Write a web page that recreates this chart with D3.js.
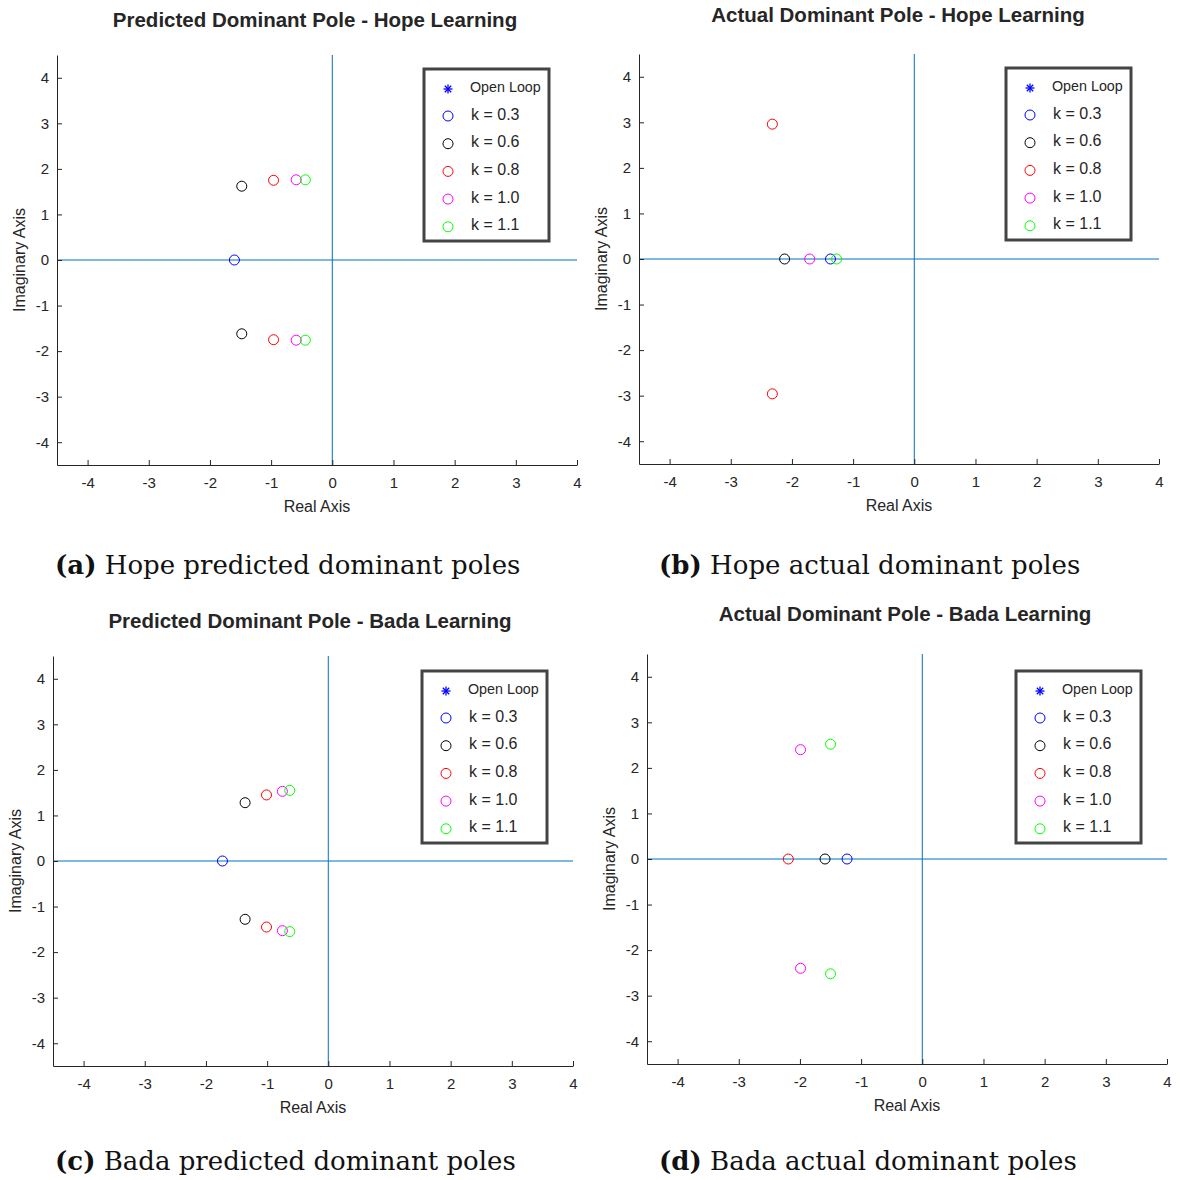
<!DOCTYPE html>
<html><head><meta charset="utf-8">
<script src="https://cdn.jsdelivr.net/npm/d3@7"></script>
<style>body{margin:0;background:#fff}svg{display:block}</style>
</head><body>
<svg id="c" width="1184" height="1180"></svg>
<script>
// ---- data ----
const legendLabels = ["Open Loop", "k = 0.3", "k = 0.6", "k = 0.8", "k = 1.0", "k = 1.1"];
const xTicks = [-4, -3, -2, -1, 0, 1, 2, 3, 4];
const yTicks = [-4, -3, -2, -1, 0, 1, 2, 3, 4];
// poles per k (0.3, 0.6, 0.8, 1.0, 1.1): real part and |imag| part (conjugate pairs when imag != 0)
const hopePredRe = [-1.60, -1.48, -0.96, -0.59, -0.44];
const hopePredIm = [0, 1.62, 1.75, 1.76, 1.76];
const hopeActRe  = [-1.37, -2.12, -2.32, -1.71, -1.27];
const hopeActIm  = [0, 0, 2.96, 0, 0];
const badaPredRe = [-1.73, -1.36, -1.01, -0.75, -0.63];
const badaPredIm = [0, 1.28, 1.45, 1.53, 1.55];
const badaActRe  = [-1.23, -1.59, -2.19, -1.99, -1.50];
const badaActIm  = [0, 0, 0, 2.40, 2.52];

const kColors = ["#0000ff", "#000000", "#ff0000", "#ff00ff", "#00ff00"];

const svg = d3.select("#c");
const sans = "'Liberation Sans', Arial, Helvetica, sans-serif";
const fmt = d => String(d);

function panel(o) {
  const g = svg.append("g");
  const x = d3.scaleLinear().domain([-4.5, 4]).range([o.left, o.left + 520]);
  const y = d3.scaleLinear().domain([-4.5, 4.5]).range([o.top + 410, o.top]);
  // zero lines
  g.append("line").attr("x1", x(-4.5)).attr("x2", x(4)).attr("y1", y(0)).attr("y2", y(0))
    .attr("stroke", "#0072BD").attr("stroke-width", 1);
  g.append("line").attr("x1", x(0)).attr("x2", x(0)).attr("y1", y(-4.5)).attr("y2", y(4.5))
    .attr("stroke", "#0072BD").attr("stroke-width", 1);
  // axes
  const xa = g.append("g").attr("transform", `translate(0,${y(-4.5)})`)
    .call(d3.axisBottom(x).tickValues(xTicks).tickSizeInner(-5).tickSizeOuter(0).tickPadding(12).tickFormat(fmt));
  const ya = g.append("g").attr("transform", `translate(${x(-4.5)},0)`)
    .call(d3.axisLeft(y).tickValues(yTicks).tickSizeInner(-5).tickSizeOuter(0).tickPadding(8).tickFormat(fmt));
  [xa, ya].forEach(a => {
    a.select(".domain").attr("stroke", "#262626");
    a.selectAll(".tick line").attr("stroke", "#262626");
    a.selectAll("text").attr("font-family", sans).attr("font-size", 15).attr("fill", "#262626");
  });
  ya.selectAll("text").attr("dy", "0.32em");
  // labels
  g.append("text").attr("x", (x(-4.5) + x(4)) / 2).attr("y", y(-4.5) + 47)
    .attr("text-anchor", "middle").attr("font-family", sans).attr("font-size", 16).attr("fill", "#262626").text("Real Axis");
  g.append("text").attr("transform", `translate(${o.left - 32},${y(0)}) rotate(-90)`)
    .attr("text-anchor", "middle").attr("font-family", sans).attr("font-size", 16).attr("fill", "#262626").text("Imaginary Axis");
  g.append("text").attr("x", o.titleX).attr("y", o.titleY).attr("text-anchor", "middle")
    .attr("font-family", sans).attr("font-weight", "bold").attr("font-size", 20.5).attr("fill", "#262626").text(o.title);
  // points
  const pts = [];
  o.re.forEach((r, i) => {
    pts.push({ re: r, im: o.im[i], c: kColors[i] });
    if (o.im[i] !== 0) pts.push({ re: r, im: -o.im[i], c: kColors[i] });
  });
  g.selectAll("circle.p").data(pts).join("circle").attr("class", "p")
    .attr("cx", d => x(d.re)).attr("cy", d => y(d.im)).attr("r", 5)
    .attr("fill", "none").attr("stroke", d => d.c).attr("stroke-width", 1);
  // legend
  const lg = g.append("g").attr("transform", `translate(${o.legX},${o.legY})`);
  lg.append("rect").attr("x", 0).attr("y", 0).attr("width", 125).attr("height", 172)
    .attr("fill", "#fff").attr("stroke", "#444").attr("stroke-width", 3);
  legendLabels.forEach((lab, i) => {
    const ry = i === 0 ? 18 : 45 + (i - 1) * 27.7;
    const mx = 24;
    if (i === 0) {
      const s = lg.append("g").attr("transform", `translate(${mx},${ry + 2})`);
      [0, 45, 90, 135].forEach(a => s.append("line").attr("x1", -4.5).attr("x2", 4.5)
        .attr("transform", `rotate(${a})`).attr("stroke", "#0000ff").attr("stroke-width", 1.3));
      lg.append("text").attr("x", 46).attr("y", ry).attr("dy", "0.35em").attr("font-family", sans)
        .attr("font-size", 14.3).attr("fill", "#262626").text(lab);
    } else {
      lg.append("circle").attr("cx", mx).attr("cy", ry + 2).attr("r", 5)
        .attr("fill", "none").attr("stroke", kColors[i - 1]).attr("stroke-width", 1);
      lg.append("text").attr("x", 47).attr("y", ry).attr("dy", "0.35em").attr("font-family", sans)
        .attr("font-size", 16).attr("fill", "#262626").text(lab);
    }
  });
  // caption
  const cap = svg.append("text").attr("x", o.capX).attr("y", o.capY)
    .attr("font-family", "'DejaVu Serif', 'Liberation Serif', serif").attr("font-size", 26).attr("fill", "#111");
  cap.append("tspan").attr("font-weight", "bold").text(o.capTag);
  cap.append("tspan").text(" " + o.capText);
}

panel({ left: 57, top: 55, re: hopePredRe, im: hopePredIm, title: "Predicted Dominant Pole - Hope Learning",
  titleX: 315, titleY: 27, legX: 424, legY: 69, capX: 55, capY: 574, capTag: "(a)", capText: "Hope predicted dominant poles" });
panel({ left: 639, top: 54, re: hopeActRe, im: hopeActIm, title: "Actual Dominant Pole - Hope Learning",
  titleX: 898, titleY: 22, legX: 1006, legY: 68, capX: 659, capY: 574, capTag: "(b)", capText: "Hope actual dominant poles" });
panel({ left: 53, top: 656, re: badaPredRe, im: badaPredIm, title: "Predicted Dominant Pole - Bada Learning",
  titleX: 310, titleY: 628, legX: 422, legY: 671, capX: 55, capY: 1170, capTag: "(c)", capText: "Bada predicted dominant poles" });
panel({ left: 647, top: 654, re: badaActRe, im: badaActIm, title: "Actual Dominant Pole - Bada Learning",
  titleX: 905, titleY: 621, legX: 1016, legY: 671, capX: 659, capY: 1170, capTag: "(d)", capText: "Bada actual dominant poles" });
</script>
</body></html>
